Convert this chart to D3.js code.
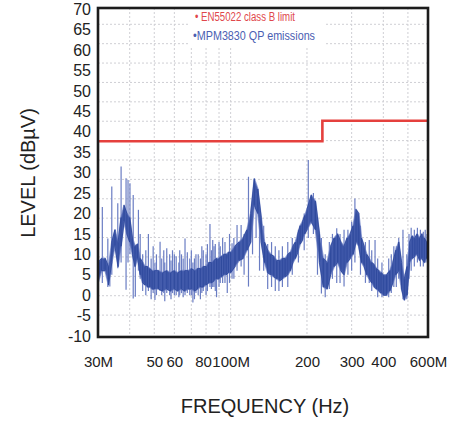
<!DOCTYPE html>
<html><head><meta charset="utf-8">
<script src="https://cdn.jsdelivr.net/npm/d3@7"></script>
<style>body{margin:0;background:#fff}svg{display:block}</style>
</head><body><svg id="c" width="462" height="423"></svg>
<script>
// ---- data (MHz, dBµV) ----
const freqMHz = [30,31,32,33,34,35,36,37,38,39,40,41,42,43,44,45,46,47,48,49,50,
  52,54,56,58,60,62,64,66,68,70,72,74,76,78,80,82,84,86,88,90,92,94,96,98,100,
  104,108,112,116,120,124,128,132,136,140,144,148,152,156,160,164,168,172,176,180,184,188,192,196,200,
  208,216,224,232,240,248,256,264,272,280,288,296,304,312,320,328,336,344,352,360,368,376,384,392,400,
  412,424,436,448,460,472,484,496,508,520,532,544,556,568,580,592,600];
const bandHigh = [8,9,9,7,13,16,13,19,22,20,19,14,12,12.5,9,8,7,7,6.5,6,6,
  6,5.5,6,5.5,6,5.5,6,6,6,6.5,6,6.5,6.5,7,7,8,8,8.5,9,9,9.5,10,10,10.5,10.5,
  12,13,14,16,20,28.5,26,19,13,11,10,9.5,8.5,8.5,9,9,10,10.5,12,13,15,17,18,19.5,21,
  24.5,23,15,9,8,12,14,15,13,12,14,15,17,21,20,14,12,10,9,8,7.5,6.5,6,5.5,5,
  5,6,8,11,13,8,4,7,13,14.5,14,15,14,15,14,13,12.5];
const bandLow = [3,6,6,2.5,8,12,7,12,18,15,13,10,7,9,5,3,2.5,2,2,1.5,1.5,
  1.5,1,1.5,1,1.5,1,1.5,1,1.5,1.5,1,1.5,2,2,2.5,3,3,3.5,4,4,4.5,5,5,5.5,5.5,
  7,8.5,9,11,13,22,20,13,8,5.5,5,4.5,4,3.5,4,4.5,5,6,8,9,10.5,12.5,13.5,15,16,
  18,16,8,2,1.5,5,7,8,6,5,8,9,10,13,12,8,7,5,4,3,2,1.5,1,0.5,0,
  0,1,3,5,6,1.5,-1.2,0,8,9,9.5,10,8.5,9,8,9,10];
const spikeFreq = [31.2,32.8,33.4,34.0,35.9,37.0,38.7,39.4,40.1,41.3,42.1,43.3,44.0,45,46.3,47.4,48.6,49.5,50.3,
  51,52.7,53.5,54.5,55,56,57.5,58.2,59,60,61,62.5,63,64,65,66.1,67.5,69,70,71,72,73,74.5,76,77,78,80,81,82.9,84,85,86,87,88,90,91,93,95,97,99,
  101.3,103,106,110,113,117.6,122,126,130,135,140,145,150,155,160,168,175,185,195,202.4,212,220,228,236,245,252,262,270,280,290,300,309,
  325,340,352,360,371,380,395,420,430,440,450,460,478,495,505,515,530,545,560,575,585,595];
const spikeTop = [21.6,13.9,7,26.6,22.5,31.5,28.6,28.2,27.4,24.5,10,20.9,15,10,11,15,9,12,8,
  10,13.1,9,11,8,11.5,10,8.5,11,10,9.5,8,11,10,9,13.9,10.5,9,11,8,9,10,10,9,12,11,10,12.5,17.4,11,13.5,12,12.5,9,13,12,14,13,9,15,
  12.7,14,17.2,17.2,15,29,22,25,21,17,12.5,13,12,11,12,13,14,16,20,33.1,25,19,14,10,13,15,16.4,15,16,16,18,23.7,
  17,13,13.5,11,13.5,9,8,9,10,12,12,14,16,10,15,16.5,16,16.5,16,15.5,16,15];
const spikeBottom = [3,2,2.1,5,6.6,8,1.3,8,10,-0.8,-0.4,6,4,1,0,1,-1,0.5,-1.2,
  0,1,0,0.5,-1.5,0.5,0,-1,0.5,0,0,-0.5,0,0.5,-0.5,0,0.5,0,0,-1.8,-1,0.5,0,-1,0.5,1,0,1,2,1.5,2,2,1,-0.5,2,3,3,3,0.5,3,
  4,4,6,7,5,2.1,10,14,6,6,1.5,2,1,1,2,2,5,8,11,14,15,5,0.4,-0.5,1.5,4,3,3,2.1,5,6,8,
  5,3,3,1,2,-0.5,-0.5,-0.5,0.5,2,2,4,-1,-1,4,6,7,8,7,7,8,8];
const limitFreq = [30,230,230,600];
const limitLevel = [37.7,37.7,42.7,42.7];
const yTicks = [70,65,60,55,50,45,40,35,30,25,20,15,10,5,0,-5,-10];
const xTicks = [30,50,60,80,100,200,300,400,600];
const xTickLabels = ["30M","50","60","80","100M","200","300","400","600M"];
const gridLevels = [-5,0,5,10,15,20,25,30,35,40,45,50,55,60,65,70];
const gridFreqs = [40,50,60,70,80,90,100,200,300,400,500];
const legendLabels = ["\u2022 EN55022 class B limit","\u2022MPM3830 QP emissions"];

// ---- drawing ----
const svg = d3.select("#c");
const L = 98, R = 428, T = 8, B = 337;
const x = d3.scaleLog().domain([30,600]).range([L,R]);
const y = d3.scaleLinear().domain([-10,70]).range([336,9.3]);
const yGrid = d3.scaleLinear().domain([-10,75]).range([334.5,4.9]);

svg.append("rect").attr("width",462).attr("height",423).attr("fill","#fff");
svg.append("defs").append("clipPath").attr("id","clip")
  .append("rect").attr("x",L).attr("y",T).attr("width",R-L).attr("height",B-T);

const grid = svg.append("g").attr("stroke","#cfcfd4").attr("stroke-width",1).attr("stroke-dasharray","2,2");
grid.selectAll("line.h").data(gridLevels).join("line").attr("class","h")
  .attr("x1",L).attr("x2",R).attr("y1",d=>yGrid(d)).attr("y2",d=>yGrid(d));
grid.selectAll("line.v").data(gridFreqs).join("line").attr("class","v")
  .attr("x1",d=>x(d)).attr("x2",d=>x(d)).attr("y1",T).attr("y2",B);

// legend background
svg.append("rect").attr("x",188).attr("y",9).attr("width",138).attr("height",37).attr("fill","#fff");

const plot = svg.append("g").attr("clip-path","url(#clip)");
const bins = freqMHz.map((f,i)=>({f, hi:bandHigh[i], lo:bandLow[i]}));

// band halo + fill
const area = d3.area().x(d=>x(d.f)).y0(d=>y(d.lo)).y1(d=>y(d.hi));
plot.append("path").datum(bins).attr("d",area)
  .attr("fill","#4a62b0").attr("stroke","#95a3d6").attr("stroke-width",1.6).attr("stroke-linejoin","round");

// spikes
plot.selectAll("line.sp").data(spikeFreq).join("line").attr("class","sp")
  .attr("x1",d=>x(d)).attr("x2",d=>x(d))
  .attr("y1",(d,i)=>y(spikeBottom[i])).attr("y2",(d,i)=>y(spikeTop[i]))
  .attr("stroke","#6a7dc3").attr("stroke-width",1.2);

plot.append("path").datum(bins).attr("d",area).attr("fill","#3a53a6").attr("fill-opacity",0.75);

// zigzag texture
const zig = [];
bins.forEach((d,i)=>{ zig.push([d.f, i%2 ? d.hi : d.lo]); zig.push([d.f, i%2 ? d.lo : d.hi]); });
plot.append("path").datum(zig)
  .attr("d", d3.line().x(d=>x(d[0])).y(d=>y(d[1])))
  .attr("fill","none").attr("stroke","#2e489c").attr("stroke-width",0.9);

// limit line
plot.append("path").datum(limitFreq.map((f,i)=>[f,limitLevel[i]]))
  .attr("d", d3.line().x(d=>x(d[0])).y(d=>y(d[1])))
  .attr("fill","none").attr("stroke","#e5403d").attr("stroke-width",2.6);

// frame
svg.append("rect").attr("x",L).attr("y",T).attr("width",R-L).attr("height",B-T)
  .attr("fill","none").attr("stroke","#1c1c1c").attr("stroke-width",2.6);

const font = "'Liberation Sans', Arial, sans-serif";
const ya = svg.append("g").attr("transform",`translate(${L},0)`)
  .call(d3.axisLeft(y).tickValues(yTicks).tickFormat(d=>String(d)).tickSize(0).tickPadding(7));
ya.select(".domain").remove();
ya.selectAll("text").attr("font-size",16).attr("font-family",font).attr("fill","#222");

const xa = svg.append("g").attr("transform",`translate(0,${B})`)
  .call(d3.axisBottom(x).tickValues(xTicks).tickFormat((d,i)=>xTickLabels[i]).tickSize(0).tickPadding(19));
xa.select(".domain").remove();
xa.selectAll("text").attr("font-size",15).attr("font-family",font).attr("fill","#222")
  .attr("dx",(d,i)=>xTickLabels[i]==="80" ? -3 : 0);

svg.append("text").attr("x",265).attr("y",413).attr("text-anchor","middle")
  .attr("font-size",20).attr("font-family",font).attr("fill","#222").text("FREQUENCY (Hz)");
svg.append("text").attr("transform","translate(35,173) rotate(-90)").attr("text-anchor","middle")
  .attr("font-size",20).attr("font-family",font).attr("fill","#222").text("LEVEL (dB\u00B5V)");

// legend
const lg = svg.append("g").attr("font-family","'Liberation Sans Narrow', 'Liberation Sans', sans-serif").attr("font-size",12.5);
lg.append("text").attr("x",195).attr("y",21).attr("fill","#e0474b")
  .attr("textLength",100).attr("lengthAdjust","spacingAndGlyphs").text(legendLabels[0]);
lg.append("text").attr("x",193).attr("y",39.5).attr("fill","#4a5eb2")
  .attr("textLength",122).attr("lengthAdjust","spacingAndGlyphs").text(legendLabels[1]);
</script></body></html>
